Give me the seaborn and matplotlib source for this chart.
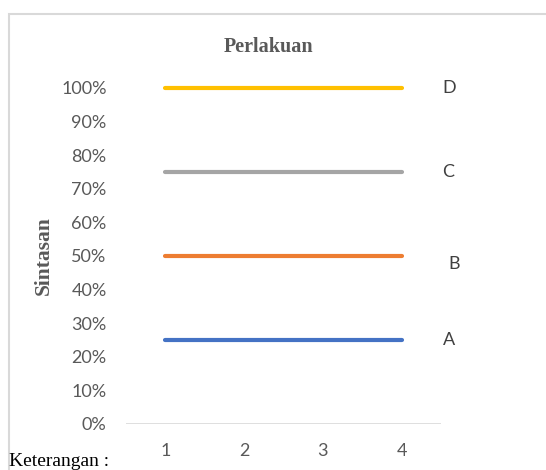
import matplotlib
matplotlib.use("Agg")
import matplotlib.pyplot as plt
import seaborn as sns
import pandas as pd
from matplotlib.patches import Rectangle
from matplotlib.ticker import PercentFormatter

# Data
ulangan = [1, 2, 3, 4]
perlakuan = ["A", "B", "C", "D"]
sintasan_A = [0.25, 0.25, 0.25, 0.25]
sintasan_B = [0.50, 0.50, 0.50, 0.50]
sintasan_C = [0.75, 0.75, 0.75, 0.75]
sintasan_D = [1.00, 1.00, 1.00, 1.00]
colors = ["#4472C4", "#ED7D31", "#A5A5A5", "#FFC000"]

df = pd.DataFrame({
    "Ulangan": ulangan * 4,
    "Perlakuan": [p for p in perlakuan for _ in ulangan],
    "Sintasan": sintasan_A + sintasan_B + sintasan_C + sintasan_D,
})

sns.set_theme(style="white")
W, H = 546, 470
fig = plt.figure(figsize=(W / 100, H / 100), dpi=100)
ax = fig.add_axes([126 / W, 1 - 424 / H, (441 - 126) / W, (424 - 88) / H])

sns.lineplot(data=df, x="Ulangan", y="Sintasan", hue="Perlakuan",
             palette=colors, linewidth=3, legend=False, ax=ax,
             solid_capstyle="round", zorder=3)
for ln in ax.get_lines():
    ln.set_clip_on(False)

ax.set_xlim(0.5, 4.5)
ax.set_ylim(0, 1)
ax.set_xticks(ulangan)
ax.set_yticks([i / 10 for i in range(11)])
ax.yaxis.set_major_formatter(PercentFormatter(1.0, decimals=0))
ax.axhline(0, color="#D9D9D9", lw=1.2, zorder=1)
for s in ax.spines.values():
    s.set_visible(False)
ax.tick_params(axis="both", length=0, labelsize=13, labelcolor="#595959", pad=14)
for lab in ax.get_xticklabels() + ax.get_yticklabels():
    lab.set_family("Lato")
ax.set_xlabel("")
ax.set_ylabel("")

serif = "Liberation Serif"
fig.text(44 / W, 1 - 256 / H, "Sintasan", family=serif, fontweight="bold",
         fontsize=15.5, color="#595959", rotation=90, ha="center", va="center")
fig.text(268 / W, 1 - 47 / H, "Perlakuan", family=serif, fontweight="bold",
         fontsize=14.5, color="#595959", ha="center", va="center")

# series labels at right end
label_offset = {"A": 0.0, "B": -0.025, "C": 0.0, "D": 0.0}
for name, vals in zip(perlakuan, [sintasan_A, sintasan_B, sintasan_C, sintasan_D]):
    ax.text(4.52 if name != "B" else 4.6, vals[-1] + label_offset[name], name,
            ha="left", va="center", fontsize=13, family="Lato",
            color="#404040", clip_on=False)

# chart border
fig.patches.append(Rectangle((9 / W, -0.05), 1.2, 1 - 14 / H + 0.05,
                             transform=fig.transFigure, fill=False,
                             edgecolor="#D9D9D9", lw=1.5))

fig.text(9 / W, 1 - 470 / H, "Keterangan :", family=serif,
         fontsize=14, color="black", ha="left", va="bottom")

fig.savefig("out.png", dpi=100)
